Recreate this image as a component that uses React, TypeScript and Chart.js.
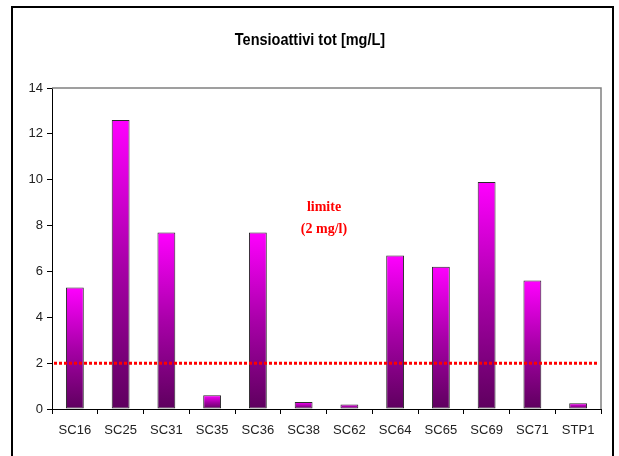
import React, { useEffect, useRef } from "react";
import { Chart, registerables } from "chart.js";

Chart.register(...registerables);

const CATEGORIES = ["SC16", "SC25", "SC31", "SC35", "SC36", "SC38", "SC62", "SC64", "SC65", "SC69", "SC71", "STP1"];
const VALUES = [5.3, 12.6, 7.7, 0.6, 7.7, 0.3, 0.2, 6.7, 6.2, 9.9, 5.6, 0.25];
const Y_MIN = 0;
const Y_MAX = 14;
const Y_STEP = 2;
const LIMIT = 2;
const TITLE = "Tensioattivi tot [mg/L]";
const LIMIT_LABEL = ["limite", "(2 mg/l)"];

const W = 619;
const H = 456;

export default function App() {
  const ref = useRef<HTMLCanvasElement | null>(null);

  useEffect(() => {
    const canvas = ref.current;
    if (!canvas) return;

    const decor = {
      id: "decor",
      beforeDraw(chart: any) {
        const c = chart.ctx;
        c.save();
        c.fillStyle = "#ffffff";
        c.fillRect(0, 0, chart.width, chart.height);
        // outer frame
        c.strokeStyle = "#000000";
        c.lineWidth = 2;
        c.strokeRect(12, 7, 601, 470);
        // title (slightly tall, like the original rendering)
        c.fillStyle = "#000000";
        c.font = "bold 14.5px 'Liberation Sans', Arial, sans-serif";
        c.textAlign = "center";
        c.textBaseline = "middle";
        c.translate(310, 41);
        c.scale(1, 1.12);
        c.fillText(TITLE, 0, 0);
        c.restore();
      },
      afterDatasetsDraw(chart: any) {
        const c = chart.ctx;
        const { chartArea, scales } = chart;
        c.save();
        // plot area top/right border
        c.strokeStyle = "#808080";
        c.lineWidth = 1.5;
        c.beginPath();
        c.moveTo(chartArea.left, chartArea.top);
        c.lineTo(chartArea.right, chartArea.top);
        c.lineTo(chartArea.right, chartArea.bottom);
        c.stroke();
        // limit line
        const y = scales.y.getPixelForValue(LIMIT);
        c.strokeStyle = "#ff0000";
        c.lineWidth = 3;
        c.setLineDash([3, 2]);
        c.beginPath();
        c.moveTo(chartArea.left + 2, y);
        c.lineTo(chartArea.right - 2, y);
        c.stroke();
        c.setLineDash([]);
        // label
        c.fillStyle = "#ff0000";
        c.font = "bold 14px 'Liberation Serif', 'Times New Roman', serif";
        c.textAlign = "center";
        c.textBaseline = "middle";
        c.fillText(LIMIT_LABEL[0], 324, 207);
        c.fillText(LIMIT_LABEL[1], 324, 229);
        c.restore();
      },
    };

    const chart = new Chart(canvas, {
      type: "bar",
      data: {
        labels: CATEGORIES,
        datasets: [
          {
            data: VALUES,
            backgroundColor: (ctx: any) => {
              const ch = ctx.chart;
              const sy = ch.scales && ch.scales.y;
              if (!ch.chartArea || !sy || typeof ctx.raw !== "number") return "#cc00cc";
              const top = sy.getPixelForValue(ctx.raw);
              const bottom = sy.getPixelForValue(0);
              const g = ch.ctx.createLinearGradient(0, top, 0, bottom);
              g.addColorStop(0, "#ff00ff");
              g.addColorStop(0.5, "#a800a8");
              g.addColorStop(1, "#5e005e");
              return g;
            },
            borderColor: "#2a2a2a",
            borderWidth: 1,
            borderSkipped: false,
            barPercentage: 0.39,
            categoryPercentage: 1,
          },
        ],
      },
      options: {
        responsive: false,
        animation: false,
        devicePixelRatio: 1,
        layout: { padding: { top: 88, right: 18, left: 0, bottom: 0 } },
        plugins: {
          legend: { display: false },
          title: { display: false },
          tooltip: { enabled: false },
        },
        scales: {
          x: {
            grid: {
              display: true,
              drawOnChartArea: false,
              drawTicks: true,
              tickLength: 5,
              color: "#000000",
              offset: true,
            },
            border: { display: true, color: "#000000", width: 1 },
            ticks: {
              color: "#222222",
              font: { family: "'Liberation Sans', Arial, sans-serif", size: 13 },
              padding: 9,
              maxRotation: 0,
              autoSkip: false,
            },
            afterFit: (s: any) => {
              s.height = 47;
            },
          },
          y: {
            min: Y_MIN,
            max: Y_MAX,
            grid: {
              display: true,
              drawOnChartArea: false,
              drawTicks: true,
              tickLength: 5,
              color: "#000000",
            },
            border: { display: true, color: "#000000", width: 1 },
            ticks: {
              stepSize: Y_STEP,
              color: "#222222",
              font: { family: "'Liberation Sans', Arial, sans-serif", size: 13 },
              padding: 4,
            },
            afterFit: (s: any) => {
              s.width = 52;
            },
          },
        },
      },
      plugins: [decor],
    } as any);

    return () => chart.destroy();
  }, []);

  return (
    <div style={{ position: "absolute", left: 0, top: 0, width: W, height: H }}>
      <canvas ref={ref} width={W} height={H} style={{ width: W, height: H, display: "block" }} />
    </div>
  );
}
